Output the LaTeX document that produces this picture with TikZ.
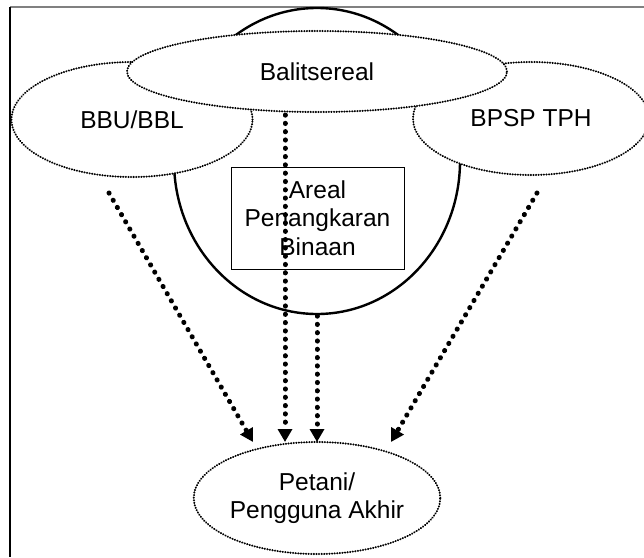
\documentclass[tikz,border=0pt]{standalone}
\usepackage{fontspec}
\setmainfont{Liberation Sans}
\usetikzlibrary{shapes.geometric,arrows.meta}
\tikzset{
  dotell/.style={ellipse, draw, fill=white, line width=2.1pt, line cap=round,
    dash pattern=on 0.2pt off 2.4pt, inner sep=0pt, align=center,
    font=\fontsize{24.5}{28.5}\selectfont},
  solidell/.style={ellipse, draw, line width=2.4pt, inner sep=0pt},
  boxnode/.style={rectangle, draw, line width=1pt, inner sep=0pt, align=center,
    font=\fontsize{24.5}{28.5}\selectfont},
  bigarrow/.style={line width=5pt, line cap=round, dash pattern=on 0.2pt off 8.1pt,
    -{Triangle[length=13pt,width=14pt]}}
}
\begin{document}
\begin{tikzpicture}[x=1pt,y=-1pt]
\useasboundingbox (0,0) rectangle (644,557);
% frame
\coordinate (fl) at (10,557);
\coordinate (fc) at (10,7);
\coordinate (fr) at (644,7);
\draw[line width=1.3pt, gray] (fc) -- (fr);
\draw[line width=1.2pt, black] (fc) -- (fl);
% big solid ellipse
\node[solidell, minimum width=286pt, minimum height=306pt] (areal) at (317,161) {};
% side ellipses
\node[dotell, minimum width=241pt, minimum height=115pt] (bbu) at (132,119.5) {BBU/BBL};
\node[dotell, minimum width=236pt, minimum height=113pt] (bpsp) at (531,118.5) {BPSP TPH};
% top ellipse
\node[dotell, minimum width=380pt, minimum height=81pt] (bal) at (317,71.5) {Balitsereal};
% box
\node[boxnode, minimum width=173pt, minimum height=102pt] (box) at (317.5,218) {Areal\\Penangkaran\\Binaan};
% bottom ellipse
\node[dotell, minimum width=244pt, minimum height=112pt] (pet) at (317,498) {Petani/\\Pengguna Akhir};
% arrow coordinates
\coordinate (s1) at (109,193);
\coordinate (t1) at (253,442);
\coordinate (s2) at (285,115);
\coordinate (t2) at (285,442);
\coordinate (s3) at (317,316);
\coordinate (t3) at (317,442);
\coordinate (s4) at (537,193);
\coordinate (t4) at (391,442);
\draw[bigarrow] (s1) -- (t1);
\draw[bigarrow] (s2) -- (t2);
\draw[bigarrow] (s3) -- (t3);
\draw[bigarrow] (s4) -- (t4);
\end{tikzpicture}
\end{document}
